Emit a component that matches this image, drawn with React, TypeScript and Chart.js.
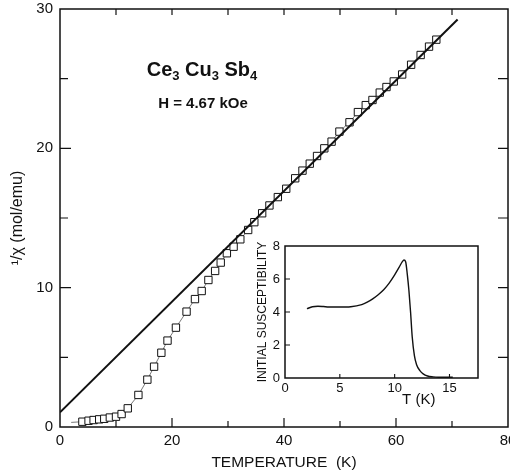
import React, { useEffect, useRef } from 'react';
import { Chart, registerables } from 'chart.js';

Chart.register(...registerables);

// ---- main panel data: inverse susceptibility vs temperature ----
const tempK = [
  2.0, 4.0, 5.1, 6.0, 7.0, 7.9, 8.9, 10.0, 11.0, 12.1, 14.0, 15.6, 16.8, 18.1, 19.2, 20.7,
  22.6, 24.1, 25.3, 26.5, 27.7, 28.7, 29.8, 31.0, 32.2, 33.6, 34.7, 36.1, 37.4, 38.9, 40.4,
  42.0, 43.3, 44.6, 45.9, 47.2, 48.5, 49.9, 51.7, 53.2, 54.6, 55.8, 57.1, 58.3, 59.6, 61.1,
  62.7, 64.4, 65.9, 67.2,
];
const invChi = [
  0.33, 0.38, 0.45, 0.5, 0.55, 0.59, 0.68, 0.74, 0.93, 1.34, 2.3, 3.4, 4.33, 5.33, 6.2, 7.13,
  8.28, 9.18, 9.76, 10.55, 11.2, 11.8, 12.47, 12.94, 13.47, 14.14, 14.7, 15.34, 15.9, 16.5, 17.1,
  17.85, 18.4, 18.9, 19.45, 20.0, 20.48, 21.2, 21.87, 22.6, 23.1, 23.47, 24.0, 24.4, 24.8, 25.3,
  26.0, 26.7, 27.3, 27.8,
];
// first point of the measured curve carries no marker
const markerShown = tempK.map((_, i) => i > 0);

// Curie-Weiss fit line
const fitT = [0, 71];
const fitInvChi = [1.05, 29.25];

const mainXTicks = [0, 20, 40, 60, 80];
const mainYTicks = [0, 10, 20, 30];
const mainBottomMarks = [10, 20, 30, 40, 50, 60, 70];
const mainTopMarks = [10, 20, 30, 40, 50, 60, 70];
const mainSideMarks = [5, 10, 15, 20, 25];

// ---- inset data: initial susceptibility vs T ----
const insetT = [
  2.0, 2.5, 3.0, 3.5, 4.0, 5.0, 6.0, 7.0, 7.5, 8.0, 8.5, 9.0, 9.5, 10.0, 10.4, 10.7, 10.85,
  11.0, 11.15, 11.3, 11.45, 11.6, 11.8, 12.0, 12.3, 12.6, 13.0, 13.5, 14.0, 14.5, 15.0, 15.3,
];
const insetChi = [
  4.2, 4.32, 4.35, 4.33, 4.3, 4.3, 4.32, 4.45, 4.6, 4.8, 5.05, 5.35, 5.75, 6.25, 6.7, 7.05, 7.15,
  7.05, 6.3, 5.3, 4.0, 2.5, 1.35, 0.8, 0.45, 0.25, 0.12, 0.07, 0.05, 0.05, 0.05, 0.05,
];
const insetXTicks = [0, 5, 10, 15];
const insetYTicks = [0, 2, 4, 6, 8];
const insetLeftMarks = [2, 4, 6];
const insetBottomMarks = [5, 10, 15];

const FONT = "'Liberation Sans', Arial, Helvetica, sans-serif";
const INK = '#111';

function noScalePadding(s: any) {
  s.paddingLeft = 0;
  s.paddingRight = 0;
  s.paddingTop = 0;
  s.paddingBottom = 0;
}

const mainFrame = {
  id: 'mainFrame',
  afterDraw(chart: any) {
    const { ctx, chartArea: a, scales } = chart;
    const x = scales.x;
    const y = scales.y;
    ctx.save();
    ctx.strokeStyle = INK;
    ctx.lineWidth = 1.5;
    ctx.strokeRect(a.left, a.top, a.right - a.left, a.bottom - a.top);
    ctx.lineWidth = 1.2;
    ctx.beginPath();
    mainBottomMarks.forEach((v) => {
      const px = x.getPixelForValue(v);
      const len = v % 20 === 0 ? 9 : 6;
      ctx.moveTo(px, a.bottom);
      ctx.lineTo(px, a.bottom - len);
    });
    mainTopMarks.forEach((v) => {
      const px = x.getPixelForValue(v);
      ctx.moveTo(px, a.top);
      ctx.lineTo(px, a.top + 6);
    });
    mainSideMarks.forEach((v) => {
      const py = y.getPixelForValue(v);
      const len = v % 10 === 0 ? 11 : 8;
      ctx.moveTo(a.left, py);
      ctx.lineTo(a.left + len, py);
      ctx.moveTo(a.right, py);
      ctx.lineTo(a.right - 10, py);
    });
    ctx.stroke();
    ctx.restore();
  },
};

const insetFrame = {
  id: 'insetFrame',
  afterDraw(chart: any) {
    const { ctx, chartArea: a, scales } = chart;
    const x = scales.x;
    const y = scales.y;
    ctx.save();
    ctx.strokeStyle = INK;
    ctx.lineWidth = 1.5;
    ctx.strokeRect(a.left, a.top, a.right - a.left, a.bottom - a.top);
    ctx.lineWidth = 1.1;
    ctx.beginPath();
    insetLeftMarks.forEach((v) => {
      const py = y.getPixelForValue(v);
      ctx.moveTo(a.left, py);
      ctx.lineTo(a.left + 5, py);
    });
    insetBottomMarks.forEach((v) => {
      const px = x.getPixelForValue(v);
      ctx.moveTo(px, a.bottom);
      ctx.lineTo(px, a.bottom - 4);
    });
    ctx.stroke();
    ctx.fillStyle = INK;
    ctx.font = `15px ${FONT}`;
    ctx.textAlign = 'center';
    ctx.textBaseline = 'middle';
    ctx.fillText('T (K)', x.getPixelForValue(12.2), a.bottom + 22);
    ctx.restore();
  },
};

export default function App() {
  const mainRef = useRef<HTMLCanvasElement>(null);
  const insetRef = useRef<HTMLCanvasElement>(null);

  useEffect(() => {
    const tickFont = { family: FONT, size: 15 };
    const insetTickFont = { family: FONT, size: 13 };
    const main = new Chart(mainRef.current as HTMLCanvasElement, {
      type: 'scatter',
      data: {
        datasets: [
          {
            label: 'fit',
            data: fitT.map((t, i) => ({ x: t, y: fitInvChi[i] })),
            showLine: true,
            borderColor: INK,
            borderWidth: 2,
            pointRadius: 0,
          },
          {
            label: '1/chi',
            data: tempK.map((t, i) => ({ x: t, y: invChi[i] })),
            showLine: true,
            borderColor: '#555',
            borderWidth: 0.8,
            pointStyle: 'rect',
            pointRadius: markerShown.map((m) => (m ? 5.2 : 0)),
            pointBackgroundColor: '#fff',
            pointBorderColor: INK,
            pointBorderWidth: 1,
          },
        ],
      },
      options: {
        responsive: false,
        animation: false,
        events: [],
        layout: { autoPadding: false, padding: { top: 9, right: 2, left: 0, bottom: 0 } },
        plugins: { legend: { display: false }, tooltip: { enabled: false } },
        scales: {
          x: {
            type: 'linear',
            min: 0,
            max: 80,
            afterBuildTicks: (s: any) => {
              s.ticks = mainXTicks.map((v) => ({ value: v }));
            },
            afterFit: (s: any) => {
              s.height = 47;
              noScalePadding(s);
            },
            grid: { display: false, drawTicks: false },
            border: { display: false },
            ticks: { font: tickFont, color: INK, padding: 5, maxRotation: 0 },
            title: {
              display: true,
              text: 'TEMPERATURE  (K)',
              font: { family: FONT, size: 15.5 },
              color: INK,
              padding: { top: 0, bottom: 2 },
            },
          },
          y: {
            type: 'linear',
            min: 0,
            max: 30,
            afterBuildTicks: (s: any) => {
              s.ticks = mainYTicks.map((v) => ({ value: v }));
            },
            afterFit: (s: any) => {
              s.width = 60;
              noScalePadding(s);
            },
            grid: { display: false, drawTicks: false },
            border: { display: false },
            ticks: { font: tickFont, color: INK, padding: 7 },
            title: {
              display: true,
              text: '¹/χ (mol/emu)',
              font: { family: FONT, size: 16 },
              color: INK,
              padding: { top: 8, bottom: 0 },
            },
          },
        },
      },
      plugins: [mainFrame],
    });

    const inset = new Chart(insetRef.current as HTMLCanvasElement, {
      type: 'scatter',
      data: {
        datasets: [
          {
            label: 'initial susceptibility',
            data: insetT.map((t, i) => ({ x: t, y: insetChi[i] })),
            showLine: true,
            borderColor: INK,
            borderWidth: 1.4,
            pointRadius: 0,
            cubicInterpolationMode: 'monotone',
          },
        ],
      },
      options: {
        responsive: false,
        animation: false,
        events: [],
        layout: { autoPadding: false, padding: { top: 10, right: 12, left: 0, bottom: 0 } },
        plugins: { legend: { display: false }, tooltip: { enabled: false } },
        scales: {
          x: {
            type: 'linear',
            min: 0,
            max: 17.6,
            afterBuildTicks: (s: any) => {
              s.ticks = insetXTicks.map((v) => ({ value: v }));
            },
            afterFit: (s: any) => {
              s.height = 38;
              noScalePadding(s);
            },
            grid: { display: false, drawTicks: false },
            border: { display: false },
            ticks: { font: insetTickFont, color: INK, padding: 3, maxRotation: 0 },
          },
          y: {
            type: 'linear',
            min: 0,
            max: 8,
            afterBuildTicks: (s: any) => {
              s.ticks = insetYTicks.map((v) => ({ value: v }));
            },
            afterFit: (s: any) => {
              s.width = 40;
              noScalePadding(s);
            },
            grid: { display: false, drawTicks: false },
            border: { display: false },
            ticks: { font: insetTickFont, color: INK, padding: 5 },
            title: {
              display: true,
              text: 'INITIAL SUSCEPTIBILITY',
              font: { family: FONT, size: 12 },
              color: INK,
              padding: { top: 10, bottom: 0 },
            },
          },
        },
      },
      plugins: [insetFrame],
    });

    return () => {
      main.destroy();
      inset.destroy();
    };
  }, []);

  const subStyle: React.CSSProperties = {
    fontSize: 13,
    verticalAlign: 'baseline',
    position: 'relative',
    top: 4,
  };

  return (
    <div
      style={{
        position: 'absolute',
        left: 0,
        top: 0,
        width: 510,
        height: 474,
        background: '#fff',
        overflow: 'hidden',
        fontFamily: FONT,
        color: INK,
      }}
    >
      <canvas ref={mainRef} width={510} height={474} style={{ position: 'absolute', left: 0, top: 0 }} />
      <canvas ref={insetRef} width={245} height={180} style={{ position: 'absolute', left: 245, top: 236 }} />
      <div
        style={{
          position: 'absolute',
          left: 202,
          top: 59,
          transform: 'translateX(-50%)',
          whiteSpace: 'nowrap',
          fontWeight: 'bold',
          fontSize: 20,
          lineHeight: '20px',
        }}
      >
        Ce<span style={subStyle}>3</span> Cu<span style={subStyle}>3</span> Sb<span style={subStyle}>4</span>
      </div>
      <div
        style={{
          position: 'absolute',
          left: 203,
          top: 95,
          transform: 'translateX(-50%)',
          whiteSpace: 'nowrap',
          fontWeight: 'bold',
          fontSize: 15,
          lineHeight: '15px',
        }}
      >
        H = 4.67 kOe
      </div>
    </div>
  );
}
